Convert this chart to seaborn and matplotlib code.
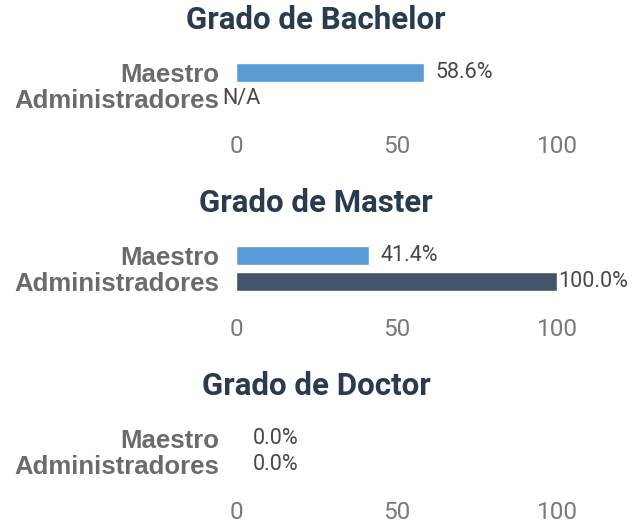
import numpy as np
import pandas as pd
import matplotlib
matplotlib.use("Agg")
import matplotlib.pyplot as plt
import seaborn as sns

# -------- data --------
degrees = ["Grado de Bachelor", "Grado de Master", "Grado de Doctor"]
roles = ["Maestro", "Administradores"]
maestro_pct = [58.6, 41.4, 0.0]
admin_pct = [np.nan, 100.0, 0.0]   # NaN -> N/A
ticks = [0, 50, 100]

colors = {"Maestro": "#5b9bd5", "Administradores": "#44546a"}
title_color = "#2b3a4e"

sns.set_theme(style="white")
plt.rcParams["font.family"] = ["Roboto", "DejaVu Sans"]

W, H = 637, 524
fig = plt.figure(figsize=(W / 100, H / 100), dpi=100)

ax_left, ax_right = 236, 557
row_h = 25.5

for i, deg in enumerate(degrees):
    top = 60 + 183 * i
    ax = fig.add_axes([ax_left / W, 1 - (top + 2 * row_h) / H,
                       (ax_right - ax_left) / W, 2 * row_h / H])
    df = pd.DataFrame({"rol": roles, "pct": [maestro_pct[i], admin_pct[i]]})
    sns.barplot(data=df, x="pct", y="rol", hue="rol", palette=colors,
                order=roles, width=0.75, legend=False, ax=ax, saturation=1)

    for j, v in enumerate(df["pct"]):
        if np.isnan(v):
            ax.annotate("N/A", (0, j), xytext=(-10, 0), textcoords="offset points",
                        ha="left", va="center", fontsize=15.5, color="#474747",
                        annotation_clip=False)
            continue
        off = 1 if v >= 100 else (12 if v == 0 else 8)
        ax.annotate(f"{v:.1f}%", (v, j), xytext=(off, 0), textcoords="offset points",
                    ha="left", va="center", fontsize=15.5, color="#474747",
                    annotation_clip=False)

    ax.set_xlim(0, 100)
    ax.set_ylim(1.5, -0.5)
    ax.set_xticks(ticks)
    ax.set_xticklabels([str(t) for t in ticks], fontsize=17.5, color="#7a7a7a")
    ax.set_yticks(range(len(roles)))
    ax.set_yticklabels(roles, fontsize=18.5, color="#6b6b6b", fontweight="bold",
                       family=["Liberation Sans", "DejaVu Sans"])
    ax.tick_params(axis="x", length=0, pad=17)
    ax.tick_params(axis="y", length=0, pad=12)
    ax.set_xlabel("")
    ax.set_ylabel("")
    sns.despine(ax=ax, left=True, bottom=True)
    ax.set_title(deg, fontsize=22.5, fontweight="bold", color=title_color, pad=22,
                 x=(316 - ax_left) / (ax_right - ax_left))

fig.savefig("out.png", dpi=100)
